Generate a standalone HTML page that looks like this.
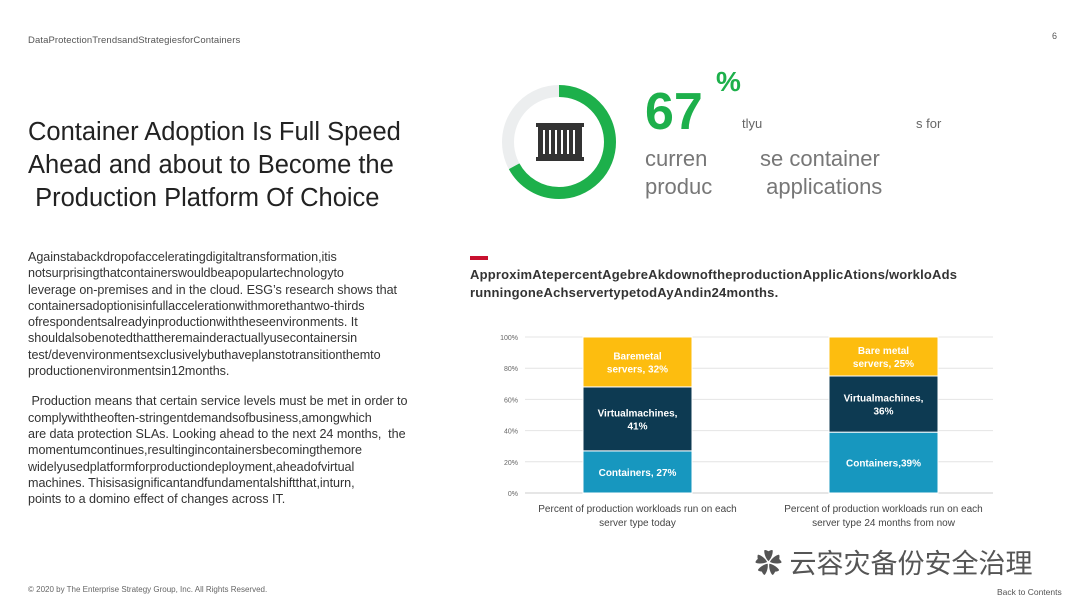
<!DOCTYPE html>
<html><head><meta charset="utf-8">
<style>
body{margin:0;width:1080px;height:608px;background:#fff;position:relative;overflow:hidden;font-family:"Liberation Sans","Noto Sans CJK SC",sans-serif;}
.abs{position:absolute;white-space:nowrap;}
.para div{height:16.3px;line-height:16.3px;font-size:12.6px;color:#333;letter-spacing:-0.05px;}
</style></head><body>
<div class="abs" style="left:28px;top:35px;font-size:9.5px;color:#555;letter-spacing:0.1px;">DataProtectionTrendsandStrategiesforContainers</div>
<div class="abs" style="left:1052px;top:31px;font-size:9px;color:#555;">6</div>
<div class="abs" style="left:28px;top:116px;font-size:25.5px;line-height:33px;color:#222;letter-spacing:0px;">Container Adoption Is Full Speed<br>Ahead and about to Become the<br>&nbsp;Production Platform Of Choice</div>
<div class="abs para" style="left:28px;top:249px;">
<div>Againstabackdropofacceleratingdigitaltransformation,itis</div>
<div>notsurprisingthatcontainerswouldbeapopulartechnologyto</div>
<div>leverage on-premises and in the cloud. ESG’s research shows that</div>
<div>containersadoptionisinfullaccelerationwithmorethantwo-thirds</div>
<div>ofrespondentsalreadyinproductionwiththeseenvironments. It</div>
<div>shouldalsobenotedthattheremainderactuallyusecontainersin</div>
<div>test/devenvironmentsexclusivelybuthaveplanstotransitionthemto</div>
<div>productionenvironmentsin12months.</div>
<div style="height:14px"></div>
<div>&nbsp;Production means that certain service levels must be met in order to</div>
<div>complywiththeoften-stringentdemandsofbusiness,amongwhich</div>
<div>are data protection SLAs. Looking ahead to the next 24 months, &nbsp;the</div>
<div>momentumcontinues,resultingincontainersbecomingthemore</div>
<div>widelyusedplatformforproductiondeployment,aheadofvirtual</div>
<div>machines. Thisisasignificantandfundamentalshiftthat,inturn,</div>
<div>points to a domino effect of changes across IT.</div>
</div>
<svg class="abs" style="left:500px;top:78px" width="120" height="130">
<circle cx="59" cy="64" r="51" fill="none" stroke="#eceeef" stroke-width="12"/>
<circle cx="59" cy="64" r="51" fill="none" stroke="#1db04b" stroke-width="12" stroke-dasharray="214.7 320.4" transform="rotate(-90 59 64)"/>
<g fill="#333"><rect x="38" y="47" width="44" height="34" rx="2"/><rect x="36" y="45" width="48" height="4"/><rect x="36" y="79" width="48" height="4"/></g>
<g stroke="#fff" stroke-width="2"><line x1="44" y1="52" x2="44" y2="76"/><line x1="50" y1="52" x2="50" y2="76"/><line x1="56" y1="52" x2="56" y2="76"/><line x1="62" y1="52" x2="62" y2="76"/><line x1="68" y1="52" x2="68" y2="76"/><line x1="74" y1="52" x2="74" y2="76"/></g>
</svg>
<div class="abs" style="left:645px;top:82px;font-size:52px;font-weight:bold;color:#1db04b;">67</div>
<div class="abs" style="left:716px;top:66px;font-size:28px;font-weight:bold;color:#1db04b;">%</div>
<div class="abs" style="left:742px;top:116px;font-size:13px;color:#666;">tlyu</div>
<div class="abs" style="left:916px;top:116px;font-size:13px;color:#666;">s for</div>
<div class="abs" style="left:645px;top:145px;font-size:22px;line-height:28px;color:#777;">curren<br>produc</div>
<div class="abs" style="left:760px;top:145px;font-size:22px;line-height:28px;color:#777;">se container<br>&nbsp;applications</div>
<div class="abs" style="left:470px;top:256px;width:18px;height:4px;background:#c8102e;"></div>
<div class="abs" style="left:470px;top:266px;font-size:13px;font-weight:bold;line-height:18px;color:#333;letter-spacing:0.2px;">ApproximAtepercentAgebreAkdownoftheproductionApplicAtions/workloAds<br>runningoneAchservertypetodAyAndin24months.</div>
<svg class="abs" id="chart" style="left:0;top:0" width="1080" height="608"></svg>
<div class="abs" style="left:28px;top:585px;font-size:8px;color:#666;">© 2020 by The Enterprise Strategy Group, Inc. All Rights Reserved.</div>
<div class="abs" style="left:997px;top:587px;font-size:8.5px;color:#555;">Back to Contents</div>
<div class="abs" style="left:755px;top:542px;font-size:27px;color:#555;">&#10047; 云容灾备份安全治理</div>
<script>
const categories=["Percent of production workloads run on each|server type today","Percent of production workloads run on each|server type 24 months from now"];
const seriesNames=["Containers","Virtual machines","Bare metal servers"];
const containers=[27,39];
const vms=[41,36];
const bare=[32,25];
const ticks=[0,20,40,60,80,100];
const labels=[["Containers, 27%","Virtualmachines,|41%","Baremetal|servers, 32%"],["Containers,39%","Virtualmachines,|36%","Bare metal|servers, 25%"]];
const svg=document.getElementById('chart');const NS='http://www.w3.org/2000/svg';
const y0=493,y1=337,xL=525,xR=993;
const y=v=>y0-(v/100)*(y0-y1);
const barX=[583,829],bw=109;
function mk(t,a){const e=document.createElementNS(NS,t);for(const k in a)e.setAttribute(k,a[k]);svg.appendChild(e);return e;}
ticks.forEach(t=>{const l=mk('line',{x1:xL,x2:xR,y1:y(t),y2:y(t),stroke:t?'#e4e4e4':'#ccc'});


const tx=mk('text',{x:518,y:y(t)+3,'text-anchor':'end','font-size':7,fill:'#666'});tx.textContent=t+'%';

});
const colors=['#1797bf','#0d3a52','#fdbd0f'];
categories.forEach((c,i)=>{let base=0;[containers,vms,bare].forEach((s,j)=>{const v=s[i];
const r=mk('rect',{x:barX[i],y:y(base+v),width:bw,height:y(base)-y(base+v),fill:colors[j],stroke:'#fff','stroke-width':1});


const ls=labels[i][j].split('|');const cy=y(base+v/2);
ls.forEach((t,k)=>{const tx=mk('text',{x:barX[i]+bw/2,y:cy+4+(k-(ls.length-1)/2)*13,'text-anchor':'middle','font-size':10,'font-weight':'bold',fill:'#fff'});tx.textContent=t;

});
base+=v;});
c.split('|').forEach((t,k)=>{const tx=mk('text',{x:barX[i]+bw/2,y:512+k*14,'text-anchor':'middle','font-size':10,fill:'#444'});tx.textContent=t;

});});
</script>
</body></html>
